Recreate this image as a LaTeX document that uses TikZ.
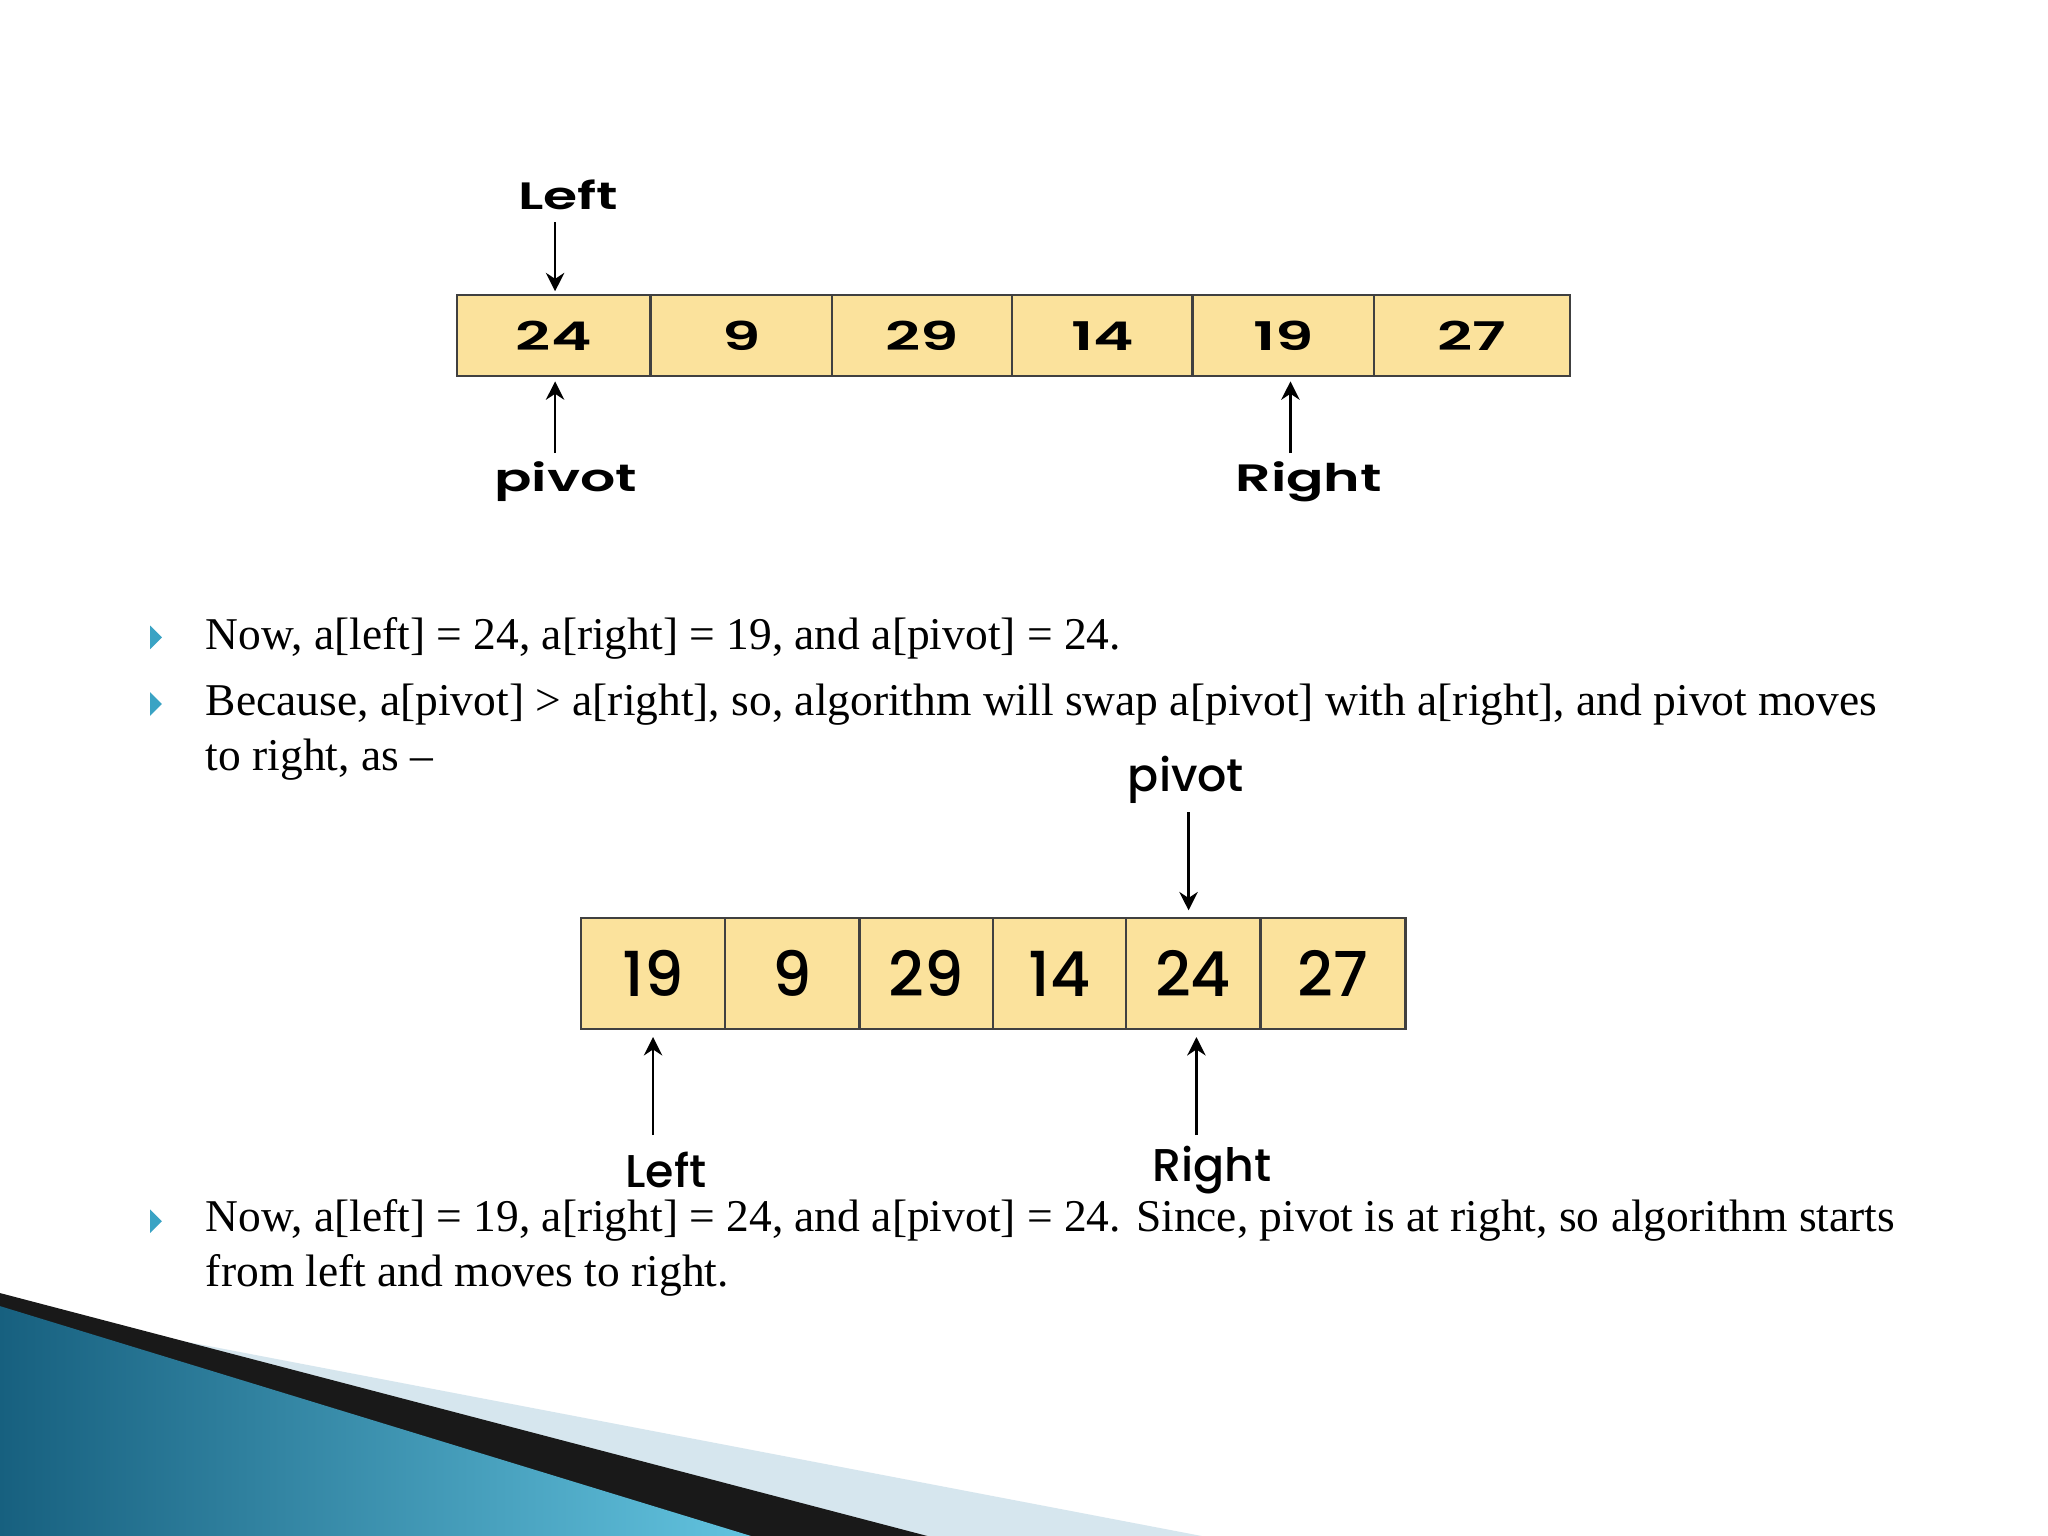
\documentclass[tikz,border=0pt]{standalone}
\usepackage{fontspec}
\usepackage{graphicx}
\setmainfont{Liberation Serif}
\newfontfamily\pop{Poppins SemiBold}
\newfontfamily\popm{Poppins Medium}
\usetikzlibrary{arrows.meta}
\definecolor{cellfill}{HTML}{FBE29C}
\definecolor{bul}{HTML}{3AA3C4}
\definecolor{tealA}{HTML}{17607F}
\definecolor{tealB}{HTML}{62C3DF}
\definecolor{bandL}{HTML}{D6E6EE}
\newcommand\wide[1]{\scalebox{1.55}[1]{#1}}
\newcommand\widel[1]{\scalebox{1.45}[1]{#1}}
\begin{document}
\begin{tikzpicture}[x=0.01cm,y=-0.01cm,
  cellA/.style={draw=black!75,line width=0.5pt,fill=cellfill,minimum width=#1*0.01cm,minimum height=0.62cm,inner sep=0pt,font=\pop\fontsize{8.6}{8.6}\selectfont},
  cellB/.style={draw=black!75,line width=0.5pt,fill=cellfill,minimum width=#1*0.01cm,minimum height=0.85cm,inner sep=0pt,font=\popm\fontsize{13.5}{13.5}\selectfont},
  lblA/.style={font=\pop\fontsize{8.3}{8.3}\selectfont},
  lblB/.style={font=\popm\fontsize{10}{10}\selectfont},
  arr/.style={-{Stealth[length=4pt,width=4pt]},line width=0.6pt},
  txt/.style={anchor=base west,font=\fontsize{9.9}{11}\selectfont,inner sep=0pt}]
\useasboundingbox (0,0) rectangle (1568,1176);
\fill[white] (0,0) rectangle (1568,1176);
% bottom decoration
\fill[bandL] (0,1000) -- (920,1176) -- (0,1176) -- cycle;
\fill[black!90] (0,990) -- (710,1176) -- (0,1176) -- cycle;
\shade[left color=tealA,right color=tealB] (0,1000) -- (575,1176) -- (0,1176) -- cycle;
% top array
\foreach \a/\b/\v/\n in {350/498/24/a1,498/637/9/a2,637/775/29/a3,775/913/14/a4,913/1052/19/a5,1052/1202/27/a6}{
  \pgfmathsetmacro\w{\b-\a}
  \node[cellA=\w] (\n) at ({(\a+\b)/2},257) {\wide{\v}};}
\node[lblA] (tl) at (435,149) {\widel{Left}};
\node[lblA] (tp) at (433,369) {\widel{pivot}};
\node[lblA] (tr) at (1002,369) {\widel{Right}};
\coordinate (tl1) at (425,170); \coordinate (tl2) at (425,223);
\draw[arr] (tl1) -- (tl2);
\coordinate (tp1) at (425,347); \coordinate (tp2) at (425,292);
\draw[arr] (tp1) -- (tp2);
\coordinate (tr1) at (988,347); \coordinate (tr2) at (988,292);
\draw[arr] (tr1) -- (tr2);
% texts
\foreach \y in {488,539,935}{\fill[bul] (115,{\y-9}) -- (124,\y) -- (115,{\y+9}) -- cycle;}
\node[txt] (t1) at (157,497) {Now, a[left] = 24, a[right] = 19, and a[pivot] = 24.};
\node[txt] (t2) at (157,548) {Because, a[pivot] > a[right], so, algorithm will swap a[pivot] with a[right], and pivot moves};
\node[txt] (t3) at (157,590) {to right, as --};
\node[txt] (t4) at (157,943) {Now, a[left] = 19, a[right] = 24, and a[pivot] = 24. Since, pivot is at right, so algorithm starts};
\node[txt] (t5) at (157,985) {from left and moves to right.};
% bottom array
\foreach \a/\b/\v/\n in {445/555/19/b1,555/658/9/b2,658/760/29/b3,760/862/14/b4,862/965/24/b5,965/1076/27/b6}{
  \pgfmathsetmacro\w{\b-\a}
  \node[cellB=\w] (\n) at ({(\a+\b)/2},745.5) {\v};}
\node[lblB] (bp) at (908,597) {pivot};
\node[lblB] (bl) at (510,896) {Left};
\node[lblB] (br) at (928,896) {Right};
\coordinate (bp1) at (910,622); \coordinate (bp2) at (910,697);
\draw[arr] (bp1) -- (bp2);
\coordinate (bl1) at (500,869); \coordinate (bl2) at (500,794);
\draw[arr] (bl1) -- (bl2);
\coordinate (br1) at (916,869); \coordinate (br2) at (916,794);
\draw[arr] (br1) -- (br2);
\end{tikzpicture}
\end{document}
